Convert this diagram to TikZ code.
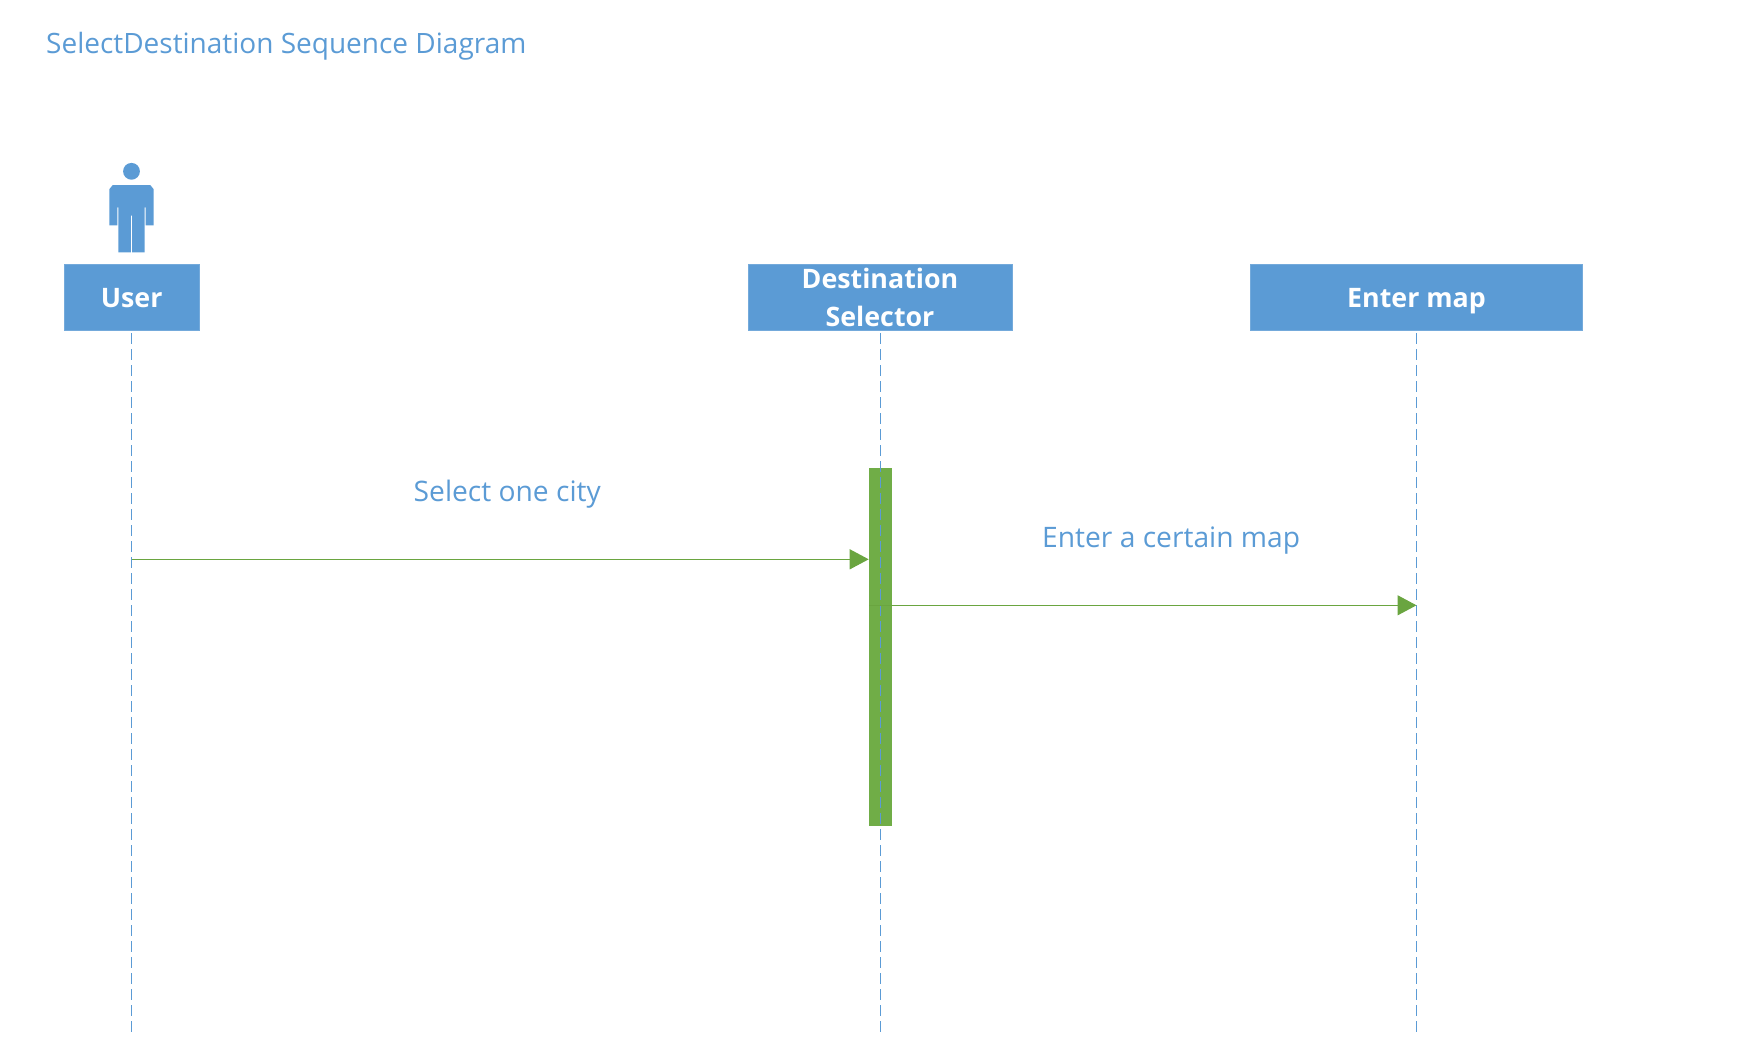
\documentclass[tikz,border=0pt]{standalone}
\usepackage{fontspec}
\setmainfont{Open Sans}
\usetikzlibrary{arrows.meta}
\definecolor{msblue}{HTML}{5B9BD5}
\definecolor{msgreen}{HTML}{70AD47}
\definecolor{msline}{HTML}{6AA540}
\newcommand{\singleline}[1]{\vphantom{Ep}\raisebox{-3.3pt}[0pt][0pt]{#1}}
\tikzset{
  actorbox/.style={fill=msblue,draw=msblue!85!white,line width=0.6pt,text=white,inner sep=0pt,minimum height=66.5pt,font=\fontsize{26.8}{38.4}\selectfont\bfseries,align=center},
  lifeline/.style={draw=msblue,line width=1.5pt,dash pattern=on 10.5pt off 5.5pt},
  activation/.style={fill=msgreen,draw=msgreen,line width=0.6pt,minimum width=22pt,minimum height=357.5pt,inner sep=0pt},
  message/.style={draw=msline,line width=1.2pt,-{Triangle[length=19pt,width=20pt,fill=msline]}},
  blabel/.style={text=msblue,inner sep=0pt,anchor=base west,font=\fontsize{28.2}{32}\selectfont},
  titlelabel/.style={blabel,font=\fontsize{28}{32}\selectfont},
  person/.style={fill=msblue,draw=none}
}
\begin{document}
\begin{tikzpicture}[x=1pt,y=-1pt]
\useasboundingbox (0,0) rectangle (1743,1061);
\node[titlelabel] (title) at (46,53.5) {SelectDestination Sequence Diagram};
% actor figure
\fill[person] (131.5,171.3) circle (8.4);
\fill[person] (112.7,185) -- (150.3,185) -- (153.7,189.3) -- (153.7,225.3) -- (145.7,225.3) -- (145.7,207.3)
  -- (144.7,207.3) -- (144.7,252.3) -- (132.1,252.3) -- (132.1,215.7) -- (130.9,215.7) -- (130.9,252.3) -- (118.3,252.3)
  -- (118.3,207.3) -- (117.3,207.3) -- (117.3,225.3) -- (109.3,225.3) -- (109.3,189.3) -- cycle;
% lifeline heads
\node[actorbox,minimum width=135.5pt] (user) at (131.7,297.5) {\singleline{User}};
\node[actorbox,minimum width=264pt] (selector) at (880,297.5) {Destination\\Selector};
\node[actorbox,minimum width=332pt] (map) at (1416.5,297.5) {\singleline{Enter map}};
% activation
\node[activation] (bar) at (880,646.8) {};
% lifeline ends
\coordinate (userend) at (131.5,1034);
\coordinate (selend) at (880.5,1034);
\coordinate (mapend) at (1416.5,1034);
\draw[lifeline] ([yshift=-2pt]user.south -| userend) -- (userend);
\draw[lifeline] ([yshift=-2pt]selector.south -| selend) -- (selend);
\draw[lifeline] ([yshift=-2pt]map.south -| mapend) -- (mapend);
% messages
\coordinate (msgA) at (131.5,559.3);
\coordinate (msgB) at (869,605.3);
\draw[message] (msgA) -- (msgA -| bar.west);
\draw[message] (msgB) -- (msgB -| mapend);
\node[blabel] (labA) at (413.5,501) {Select one city};
\node[blabel] (labB) at (1042,547.5) {Enter a certain map};
\end{tikzpicture}
\end{document}
